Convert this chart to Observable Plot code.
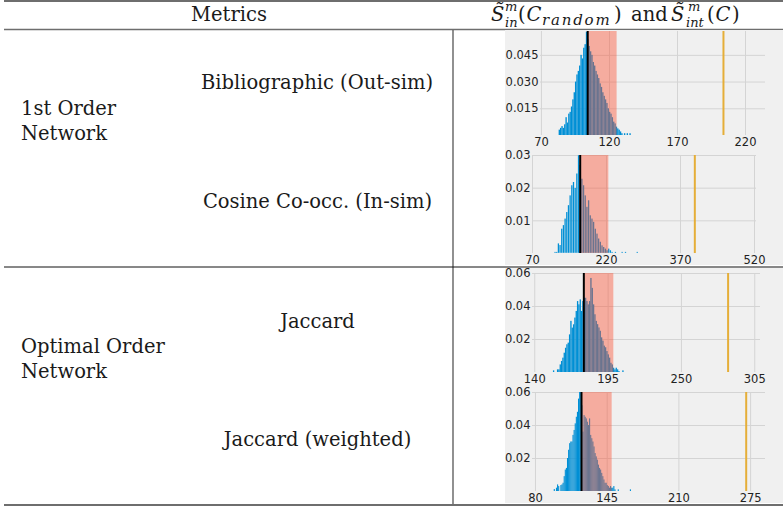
<!DOCTYPE html>
<html>
<head>
<meta charset="utf-8">
<script src="https://cdn.jsdelivr.net/npm/d3@7"></script>
<script src="https://cdn.jsdelivr.net/npm/@observablehq/plot@0.6"></script>
<style>
  html, body { margin: 0; padding: 0; background: #fff; }
  #wrap { position: relative; width: 783px; height: 507px; overflow: hidden; background: #fff; }
  #table { position: absolute; left: 0; top: 0; }
  .panel { position: absolute; left: 505px; }
  .panel svg { display: block; }
</style>
</head>
<body>
<div id="wrap">
<svg id="table" width="783" height="507" font-family="DejaVu Serif" fill="#1a1a1a">
  <line x1="4" x2="783" y1="1" y2="1" stroke="#6e6e6e" stroke-width="2"/>
  <line x1="4" x2="783" y1="29.5" y2="29.5" stroke="#6e6e6e" stroke-width="1.3"/>
  <line x1="453" x2="453" y1="30" y2="505" stroke="#555" stroke-width="1.3"/>
  <line x1="4" x2="783" y1="267" y2="267" stroke="#111" stroke-width="1"/>
  <line x1="4" x2="783" y1="505" y2="505" stroke="#6e6e6e" stroke-width="2"/>
  <text x="229" y="20.5" font-size="19.5" text-anchor="middle">Metrics</text>
  <text x="491" y="20.5" font-size="19.5" font-style="italic">S&#771;</text>
  <text x="505" y="11" font-size="13" font-style="italic">m</text>
  <text x="505" y="27" font-size="13" font-style="italic">in</text>
  <text x="518" y="20.5" font-size="19.5">(</text>
  <text x="526.5" y="20.5" font-size="19.5" font-style="italic">C</text>
  <text x="542" y="24.5" font-size="15" font-style="italic" letter-spacing="1.8">random</text>
  <text x="614" y="20.5" font-size="19.5">)</text>
  <text x="631" y="20.5" font-size="19.5">and</text>
  <text x="671" y="20.5" font-size="19.5" font-style="italic">S&#771;</text>
  <text x="688" y="11" font-size="13" font-style="italic">m</text>
  <text x="686" y="27" font-size="13" font-style="italic">int</text>
  <text x="707" y="20.5" font-size="19.5">(</text>
  <text x="715.5" y="20.5" font-size="19.5" font-style="italic">C</text>
  <text x="732" y="20.5" font-size="19.5">)</text>
  <text x="317" y="89" font-size="19.5" text-anchor="middle">Bibliographic (Out-sim)</text>
  <text x="317.5" y="207.5" font-size="19.5" text-anchor="middle">Cosine Co-occ. (In-sim)</text>
  <text x="21" y="114.5" font-size="19.5">1st Order</text>
  <text x="21" y="139.5" font-size="19.5">Network</text>
  <text x="317.5" y="327.7" font-size="19.5" text-anchor="middle">Jaccard</text>
  <text x="21" y="352.7" font-size="19.5">Optimal Order</text>
  <text x="21" y="378" font-size="19.5">Network</text>
  <text x="317.5" y="446" font-size="19.5" text-anchor="middle">Jaccard (weighted)</text>
</svg>
<div class="panel" id="p1" style="top:30px"></div>
<div class="panel" id="p2" style="top:147px"></div>
<div class="panel" id="p3" style="top:268px"></div>
<div class="panel" id="p4" style="top:385px"></div>
</div>
<script>
// ---------- Panel 1: Bibliographic (Out-sim) ----------
const biblioBinStart = 83;
const biblioBinWidth = 1;
const biblioDensity = [
  0.003,0.004,0.005,0.004,0.006,0.010,0.007,0.012,0.013,0.016,
  0.020,0.024,0.030,0.034,0.036,0.039,0.045,0.043,0.049,0.051,
  0.058,0.054,0.050,0.047,0.045,0.041,0.039,0.036,0.034,0.032,
  0.029,0.027,0.024,0.022,0.020,0.018,0.015,0.013,0.012,0.010,
  0.0075,0.0065,0.0047,0.0037,0.003,0.002,0.001,0,0.001,0,0.001,0,0.001
];
const biblioMean = 104;
const biblioSpan = [104.3, 125.6];
const biblioObserved = 203.8;
const biblioXTicks = [70, 120, 170, 220];
const biblioYTicks = [0.015, 0.030, 0.045];

// ---------- Panel 2: Cosine Co-occ. (In-sim) ----------
const cosineBinStart = 115;
const cosineBinWidth = 3.4;
const cosineDensity = [
  0.0004,0.0004,0.003,0.0025,0.0075,0.0086,0.0106,0.0126,0.0147,0.0177,
  0.0208,0.0218,0.020,0.0244,0.030,0.027,0.0228,0.0208,0.0177,0.0142,
  0.0162,0.0116,0.0106,0.0096,0.0075,0.006,0.0045,0.0035,0.0024,0.0019,
  0.0014,0.0009,0.0014,0.0009,0.0004,0,0.0004,0,0,0,
  0.0004,0,0.0004,0,0,0,0,0,0,0.0004
];
const cosineMean = 166.7;
const cosineSpan = [167, 224.7];
const cosineObserved = 399;
const cosineXTicks = [70, 220, 370, 520];
const cosineYTicks = [0.01, 0.02, 0.03];

// ---------- Panel 3: Jaccard ----------
const jaccardBinStart = 154;
const jaccardBinWidth = 1;
const jaccardDensity = [
  0.001,0,0,0.0016,0.0016,0.0046,0.0067,0.0087,0.0117,0.0147,
  0.0168,0.0178,0.0228,0.031,0.0269,0.0289,0.033,0.037,0.043,0.041,
  0.044,0.037,0.043,0.045,0.045,0.043,0.041,0.043,0.057,0.051,
  0.041,0.035,0.031,0.029,0.027,0.025,0.021,0.019,0.016,0.015,
  0.0127,0.0107,0.0087,0.0056,0.0046,0.0026,0.0016,0.0026,0.0016,0.0006,
  0,0,0.001
];
const jaccardMean = 176.8;
const jaccardSpan = [177.5, 199.3];
const jaccardObserved = 285;
const jaccardXTicks = [140, 195, 250, 305];
const jaccardYTicks = [0.02, 0.04, 0.06];

// ---------- Panel 4: Jaccard (weighted) ----------
const wjaccardBinStart = 97;
const wjaccardBinWidth = 1;
const wjaccardDensity = [
  0.0012,0,0.002,0.004,0.003,0,0.0036,0.004,0.005,0.009,
  0.013,0.014,0.020,0.025,0.029,0.030,0.030,0.034,0.037,0.041,
  0.045,0.048,0.056,0.060,0.060,0.052,0.036,0.046,0.045,0.044,
  0.042,0.040,0.044,0.034,0.032,0.030,0.027,0.023,0.021,0.019,
  0.016,0.014,0.013,0.011,0.009,0.007,0.005,0.005,0.0036,0.003,
  0.002,0.003,0.002,0.002,0.003,0.001,0,0,0.001,0,
  0,0,0,0,0,0,0,0,0,0.001
];
const wjaccardMean = 121.7;
const wjaccardSpan = [122.3, 149.5];
const wjaccardObserved = 271;
const wjaccardXTicks = [80, 145, 210, 275];
const wjaccardYTicks = [0.02, 0.04, 0.06];

function makeBins(start, width, dens) {
  return dens.map((d, i) => ({x1: start + i * width, x2: start + (i + 1) * width, density: d}));
}

function panel(cfg) {
  const bins = makeBins(cfg.start, cfg.width, cfg.density);
  return Plot.plot({
    width: 278,
    height: cfg.height,
    marginTop: cfg.mt,
    marginBottom: cfg.mb,
    marginLeft: cfg.ml,
    marginRight: cfg.mr,
    style: {background: "#f0f0f0", fontFamily: "DejaVu Sans", fontSize: "11.5px", color: "#222", overflow: "visible"},
    x: {domain: cfg.xDomain},
    y: {domain: [0, cfg.yMax]},
    marks: [
      Plot.gridX(cfg.xTicks, {stroke: "#d4d4d4", strokeOpacity: 1, strokeWidth: 1}),
      Plot.gridY(cfg.yTicks, {stroke: "#d4d4d4", strokeOpacity: 1, strokeWidth: 1}),
      Plot.rectY(bins, {x1: "x1", x2: "x2", y: "density", fill: "#008fd5", inset: cfg.inset, clip: true}),
      Plot.rect([cfg.span], {x1: d => d[0], x2: d => d[1], fill: "#fc4f30", fillOpacity: 0.42}),
      Plot.ruleX([cfg.mean], {stroke: "#000", strokeWidth: 2}),
      Plot.ruleX([cfg.observed], {stroke: "#e5ae38", strokeWidth: 2}),
      Plot.axisX(cfg.xTicks, {tickSize: 0, tickPadding: 2.5, label: null, fill: "#222"}),
      Plot.axisY(cfg.yTicks, {tickSize: 0, tickPadding: 2, label: null, tickFormat: d3.format(cfg.fmt), fill: "#222"})
    ]
  });
}

document.getElementById("p1").append(panel({
  height: 117, mt: 1, mb: 12, ml: 35, mr: 18,
  xDomain: [69.3, 234.7], yMax: 0.0584,
  start: biblioBinStart, width: biblioBinWidth, density: biblioDensity, inset: 0,
  span: biblioSpan, mean: biblioMean, observed: biblioObserved,
  xTicks: biblioXTicks, yTicks: biblioYTicks, fmt: ".3f"
}));
document.getElementById("p2").append(panel({
  height: 118, mt: 8, mb: 12, ml: 27, mr: 27,
  xDomain: [70, 524], yMax: 0.03,
  start: cosineBinStart, width: cosineBinWidth, density: cosineDensity, inset: 0.2,
  span: cosineSpan, mean: cosineMean, observed: cosineObserved,
  xTicks: cosineXTicks, yTicks: cosineYTicks, fmt: ".2f"
}));
document.getElementById("p3").append(panel({
  height: 117, mt: 5, mb: 13, ml: 27, mr: 23,
  xDomain: [138.3, 309.3], yMax: 0.06,
  start: jaccardBinStart, width: jaccardBinWidth, density: jaccardDensity, inset: 0,
  span: jaccardSpan, mean: jaccardMean, observed: jaccardObserved,
  xTicks: jaccardXTicks, yTicks: jaccardYTicks, fmt: ".2f"
}));
document.getElementById("p4").append(panel({
  height: 118, mt: 7, mb: 12, ml: 27, mr: 18,
  xDomain: [77.3, 288.5], yMax: 0.06,
  start: wjaccardBinStart, width: wjaccardBinWidth, density: wjaccardDensity, inset: 0,
  span: wjaccardSpan, mean: wjaccardMean, observed: wjaccardObserved,
  xTicks: wjaccardXTicks, yTicks: wjaccardYTicks, fmt: ".2f"
}));
</script>
</body>
</html>
